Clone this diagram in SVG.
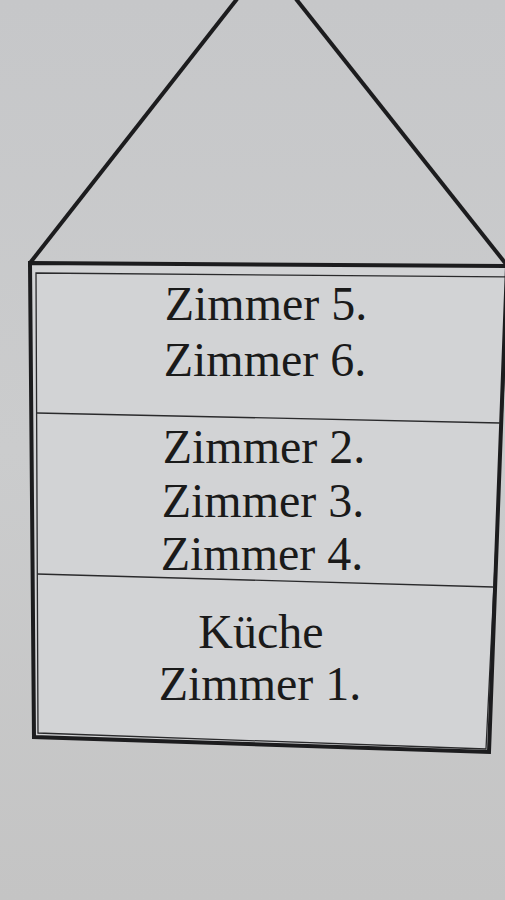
<svg xmlns="http://www.w3.org/2000/svg" width="505" height="900" viewBox="0 0 505 900">
<defs>
<linearGradient id="bg" x1="0" y1="0" x2="0" y2="1">
<stop offset="0" stop-color="#c6c7c9"/>
<stop offset="0.5" stop-color="#cbcccd"/>
<stop offset="1" stop-color="#c4c4c4"/>
</linearGradient>
<style>
.t{font-family:"Liberation Serif","Times New Roman",serif;font-size:48px;fill:#1a1a1a;text-anchor:middle}
.thick{fill:none;stroke:#1c1c1e;stroke-width:4;stroke-linejoin:miter}
.thin{fill:none;stroke:#2a2a2c;stroke-width:1.3}
</style>
</defs>
<rect width="505" height="900" fill="url(#bg)"/>
<g id="roof">
<line class="thick" x1="237" y1="-1" x2="30" y2="263"/>
<line class="thick" x1="296" y1="-1" x2="506" y2="264"/>
</g>
<g id="house">
<polygon points="30,263 507,266 489,752 34,737" fill="#d2d3d5" stroke="none"/>
<polygon class="thin" points="36,273 509,277 486,749 38,733"/>
<polygon class="thick" points="30,263 507,266 489,752 34,737"/>
</g>
<g id="connectors">
<line class="thin" x1="37" y1="413" x2="500" y2="423"/>
<line class="thin" x1="37" y1="574" x2="493" y2="587"/>
</g>
<g id="floor3">
<text class="t" x="266" y="320">Zimmer 5.</text>
<text class="t" x="265" y="376">Zimmer 6.</text>
</g>
<g id="floor2">
<text class="t" x="264" y="463">Zimmer 2.</text>
<text class="t" x="263" y="517">Zimmer 3.</text>
<text class="t" x="262" y="570">Zimmer 4.</text>
</g>
<g id="floor1">
<text class="t" x="261" y="648">Küche</text>
<text class="t" x="260" y="700">Zimmer 1.</text>
</g>
</svg>
